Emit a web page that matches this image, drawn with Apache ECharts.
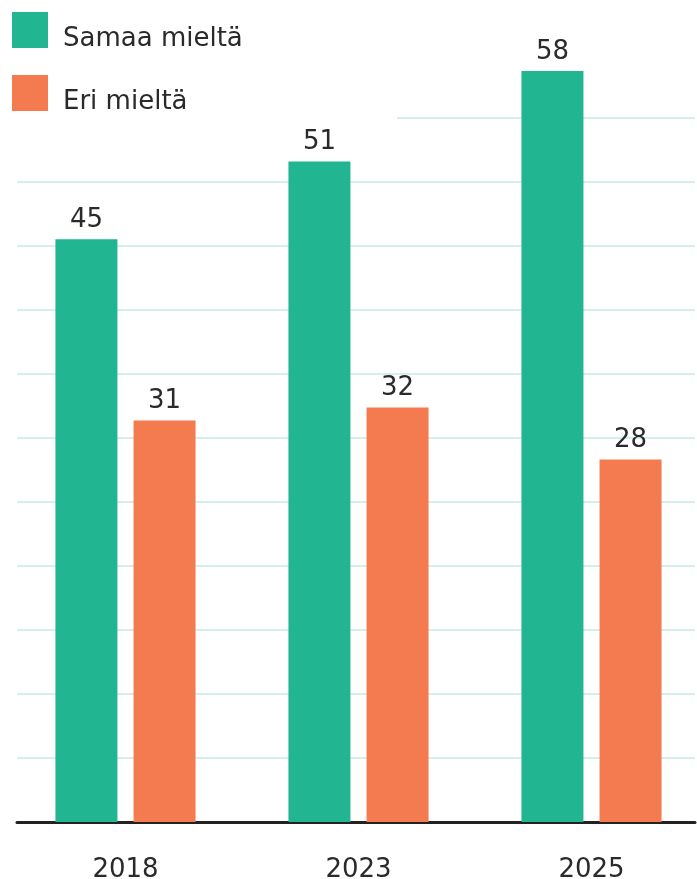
<!DOCTYPE html>
<html>
<head>
<meta charset="utf-8">
<script src="https://cdn.jsdelivr.net/npm/echarts@6/dist/echarts.min.js"></script>
<style>
html,body{margin:0;padding:0;background:#fff;}
#chart{width:697px;height:879px;}
</style>
</head>
<body>
<div id="chart"></div>
<script>
var years = ['2018', '2023', '2025'];
var samaa = [45, 51, 58];
var eri = [31, 32, 28];
var seriesNames = ['Samaa mieltä', 'Eri mieltä'];
var colors = ['#21b592', '#f47b4f'];

var font = '"DejaVu Sans", sans-serif';
var chart = echarts.init(document.getElementById('chart'));

var labelStyle = {
    show: true,
    position: 'top',
    distance: 6,
    fontFamily: font,
    fontSize: 26,
    color: '#2a2a2a'
};

var option = {
    animation: false,
    color: colors,
    legend: {
        orient: 'vertical',
        left: 12,
        top: 12,
        padding: 0,
        itemWidth: 36,
        itemHeight: 36,
        itemGap: 23,
        icon: 'rect',
        formatter: function (name) {
            return '{t|' + name + '}';
        },
        textStyle: {
            fontFamily: font,
            fontSize: 26,
            color: '#2a2a2a',
            padding: [0, 0, 0, 10],
            rich: {
                t: {
                    fontFamily: font,
                    fontSize: 26,
                    color: '#2a2a2a',
                    padding: [18, 0, 0, 0]
                }
            }
        },
        data: seriesNames
    },
    grid: [
        // gridlines + baseline
        {left: 17, right: 2, top: 118, bottom: 57, outerBoundsMode: 'none'},
        // bars
        {left: 9, width: 699, top: 45, bottom: 57, outerBoundsMode: 'none'}
    ],
    xAxis: [
        {
            type: 'category',
            gridIndex: 0,
            data: years,
            axisLine: {lineStyle: {color: '#222', width: 3}},
            axisTick: {show: false},
            axisLabel: {show: false}
        },
        {
            type: 'category',
            gridIndex: 1,
            data: years,
            axisLine: {show: false},
            axisTick: {show: false},
            axisLabel: {
                fontFamily: font,
                fontSize: 26,
                color: '#2a2a2a',
                margin: 35
            }
        }
    ],
    yAxis: [
        {
            type: 'value',
            gridIndex: 0,
            min: 0,
            max: 55,
            interval: 5,
            axisLine: {show: false},
            axisTick: {show: false},
            axisLabel: {show: false},
            splitLine: {lineStyle: {color: '#d6eef0', width: 2}}
        },
        {
            type: 'value',
            gridIndex: 1,
            min: 0,
            max: 60,
            show: false,
            splitLine: {show: false}
        }
    ],
    graphic: [
        {
            type: 'rect',
            shape: {x: 0, y: 114, width: 397, height: 10},
            style: {fill: '#fff'},
            z: 1
        }
    ],
    series: [
        {
            name: seriesNames[0],
            type: 'bar',
            xAxisIndex: 1,
            yAxisIndex: 1,
            data: samaa,
            barWidth: 62,
            barGap: '26%',
            z: 3,
            label: labelStyle
        },
        {
            name: seriesNames[1],
            type: 'bar',
            xAxisIndex: 1,
            yAxisIndex: 1,
            data: eri,
            barWidth: 62,
            barGap: '26%',
            z: 3,
            label: labelStyle
        }
    ]
};
chart.setOption(option);
</script>
</body>
</html>
